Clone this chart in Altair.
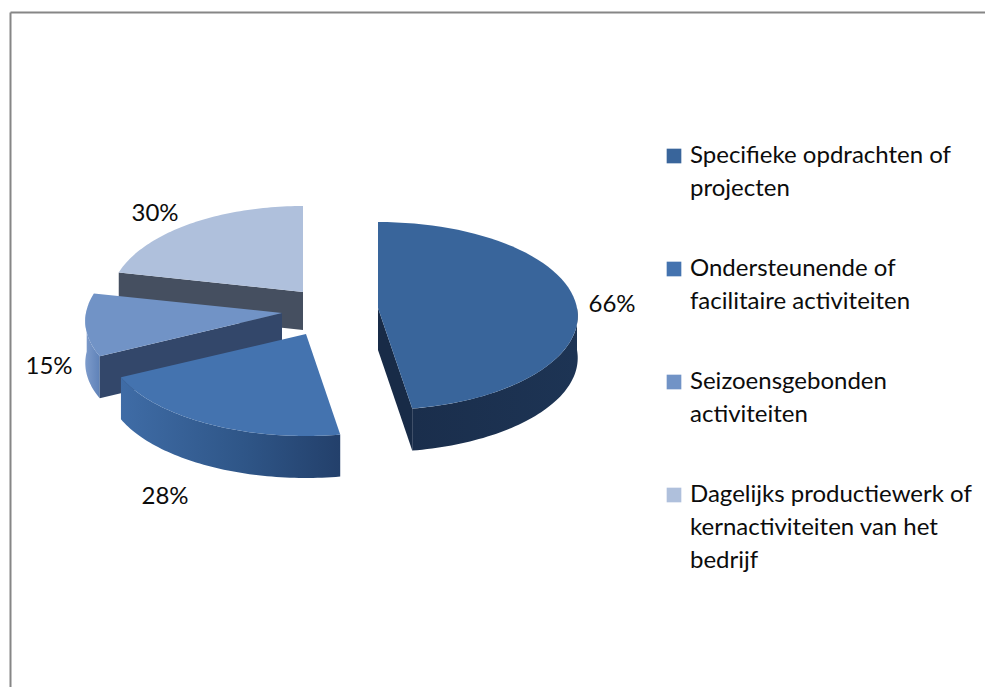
import math
import altair as alt
import pandas as pd

# --- data
categories = [
    ["Specifieke opdrachten of", "projecten"],
    ["Ondersteunende of", "facilitaire activiteiten"],
    ["Seizoensgebonden", "activiteiten"],
    ["Dagelijks productiewerk of", "kernactiviteiten van het", "bedrijf"],
]
percentages = [66, 28, 15, 30]
percent_labels = ["66%", "28%", "15%", "30%"]

# --- styling and 3-D layout
top_colors = ["#39659b", "#4473af", "#7193c6", "#afc0dc"]
centres = [(378, 308), (306, 334), (282, 313), (303, 292)]
radii = [199, 199, 196, 192]
label_offsets = [(234, -3), (-141, 163), (-233, 54), (-148, -78)]
RY, PERSP, DEPTH = 93.3, 0.085, 42
W, H = 977, 679
FONT, FS, INK = "Lato", 24, "#0c0c0c"
LEG_SYM_X, LEG_TEXT_X, LEG_TOP, LEG_STEP, LEG_LINE = 674, 690, 163, 113, 33


def rim(i, deg):
    cx, cy = centres[i]
    t = math.radians(deg)
    d = -math.cos(t)
    s = 1 / (1 - PERSP * d)
    return cx + radii[i] * math.sin(t) * s, cy + RY * d * s


def arc(i, a, b, n=60):
    return [rim(i, a + (b - a) * k / n) for k in range(n + 1)]


def drop(points, depth=DEPTH):
    return [(x, y + depth) for x, y in points]


total = sum(percentages)
bounds = [0]
for v in percentages:
    bounds.append(bounds[-1] + v / total * 360)

X = alt.X("x:Q", scale=alt.Scale(domain=[8, 8 + W], range=[0, W]), axis=None)
Y = alt.Y("y:Q", scale=alt.Scale(domain=[8, 8 + H], range=[0, H]), axis=None)


def frame(points):
    return pd.DataFrame([{"x": x, "y": y, "o": i} for i, (x, y) in enumerate(points)])


def grad(*stops):
    return alt.Gradient(
        gradient="linear", x1=0, x2=1, y1=0, y2=0,
        stops=[alt.GradientStop(offset=o, color=c) for o, c in stops],
    )


def poly(points, fill):
    return alt.Chart(frame(points)).mark_line(
        fill=fill, stroke="transparent", strokeWidth=0
    ).encode(x=X, y=Y, order="o:Q")


def top(i):
    return poly([centres[i]] + arc(i, bounds[i], bounds[i + 1]), top_colors[i])


layers = []

# light slice
c = centres[3]
e = rim(3, bounds[3])
layers.append(poly([e, c, (c[0], c[1] + 38), (e[0], e[1] + 38)], "#454f60"))
layers.append(top(3))

# medium-light slice
c = centres[2]
o = arc(2, bounds[2], 272)
layers.append(poly(o + drop(o[::-1]), grad((0, "#7d9bcb"), (1, "#5f82b8"))))
e = rim(2, bounds[2])
layers.append(poly([c, e, (e[0], e[1] + DEPTH), (c[0], c[1] + DEPTH)], "#33476a"))
layers.append(top(2))

# medium slice
c = centres[1]
o = arc(1, bounds[1], bounds[2])
layers.append(poly(o + drop(o[::-1]), grad((0, "#3f6ca6"), (0.55, "#2f5688"), (1, "#23406b"))))
layers.append(top(1))

# dark slice
c = centres[0]
o = arc(0, 90, bounds[1])
layers.append(poly(o + drop(o[::-1]), grad((0, "#1a2e4c"), (1, "#1d3454"))))
e = rim(0, bounds[1])
layers.append(poly([c, e, (e[0], e[1] + DEPTH), (c[0], c[1] + DEPTH)], "#182b47"))
layers.append(top(0))

# percentage labels
labels = pd.DataFrame({
    "x": [centres[i][0] + label_offsets[i][0] for i in range(4)],
    "y": [centres[i][1] + label_offsets[i][1] for i in range(4)],
    "t": percent_labels,
})
layers.append(alt.Chart(labels).mark_text(font=FONT, fontSize=FS, color=INK).encode(
    x=X, y=Y, text="t:N"
))

# legend
keys = pd.DataFrame({
    "x": [LEG_SYM_X] * 4,
    "y": [LEG_TOP - 7 + i * LEG_STEP for i in range(4)],
    "k": [str(i) for i in range(4)],
})
layers.append(alt.Chart(keys).mark_point(shape="square", filled=True, size=215, opacity=1).encode(
    x=X, y=Y,
    color=alt.Color("k:N", scale=alt.Scale(domain=keys["k"].tolist(), range=top_colors), legend=None),
))
lines = pd.DataFrame([
    {"x": LEG_TEXT_X, "y": LEG_TOP + i * LEG_STEP + j * LEG_LINE, "t": line}
    for i, entry in enumerate(categories) for j, line in enumerate(entry)
])
layers.append(alt.Chart(lines).mark_text(
    font=FONT, fontSize=FS, color=INK, align="left", baseline="alphabetic"
).encode(x=X, y=Y, text="t:N"))

# outer frame: only the top and left edges show
edge = alt.Chart(pd.DataFrame({
    "x": [10.5, 8 + W, 10.5, 10.5], "y": [12.5, 12.5, 12.5, 8 + H],
    "o": [0, 1, 0, 1], "e": ["a", "a", "b", "b"],
})).mark_line(color="#868686", strokeWidth=2).encode(x=X, y=Y, order="o:Q", detail="e:N")
layers.append(edge)

chart = alt.layer(*layers).properties(
    width=W, height=H, padding=0,
    autosize=alt.AutoSizeParams(type="none"),
).configure(background="white").configure_view(stroke=None)
chart.save("out.html", embed_options={"renderer": "svg", "actions": False})
